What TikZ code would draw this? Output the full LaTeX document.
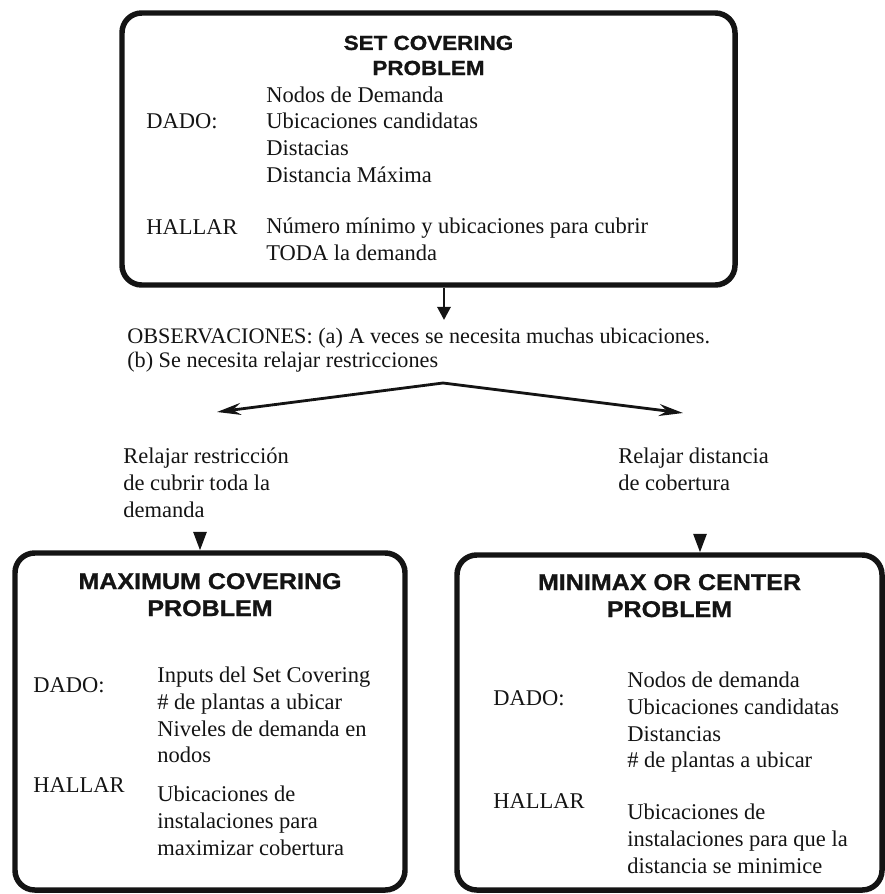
\documentclass[tikz,border=0pt]{standalone}
\usepackage{fontspec}
\setmainfont{Liberation Serif}
\newfontfamily\ttlfont[FakeStretch=1.1, FakeBold=1]{Liberation Sans Bold}
\usepackage{tikz}
\usetikzlibrary{arrows.meta, positioning, fit}
\definecolor{diagink}{HTML}{141414}
\tikzset{
  probbox/.style={draw=diagink, line width=3.9pt, rounded corners=14pt, inner sep=0pt},
  ttl/.style={font={\ttlfont\fontsize{14.5}{17.8}\selectfont}, align=center,
              anchor=base, inner sep=0pt, text=diagink},
  bigttl/.style={ttl, font={\ttlfont\fontsize{16.2}{19.2}\selectfont}},
  txt/.style={font={\fontsize{16}{18.85}\selectfont}, align=left,
              anchor=base west, inner sep=0pt, text=diagink},
  obstxt/.style={txt, font={\fontsize{15.8}{17.1}\selectfont}},
  lbltxt/.style={txt, font={\fontsize{16}{19.2}\selectfont}},
  flow/.style={-{Triangle[length=3.3mm, width=3.3mm]}, line width=2pt, draw=diagink},
  branch/.style={-{Stealth[length=6mm, width=3mm, inset=2mm]}, line width=2pt, draw=diagink},
  drop/.style={-{Triangle[length=4.6mm, width=3.3mm]}, line width=1.5pt, draw=diagink},
}
\begin{document}
\begin{tikzpicture}[x=0.025cm, y=-0.025cm]
  \useasboundingbox (0,0) rectangle (884,894);
  % multi-line nodes sit on the baseline of their last line

  % set covering
  \node[probbox, fit={(122,13) (735,285)}] (scp) {};
  \node[ttl] (scp-ttl) at (428.5,75) {SET COVERING\\PROBLEM};
  \node[txt] (scp-dado) at (146,128) {DADO:};
  \node[txt] (scp-given) at (266,182)
    {Nodos de Demanda\\ Ubicaciones candidatas\\ Distacias\\ Distancia Máxima};
  \node[txt] (scp-hallar) at (146,234) {HALLAR};
  \node[txt] (scp-find) at (266,260.5)
    {Número mínimo y ubicaciones para cubrir\\ TODA la demanda};

  \coordinate (obs-in) at (444,320);
  \draw[flow] (scp.south -| obs-in) -- (obs-in);
  \node[obstxt] (obs) at (127,367.5)
    {OBSERVACIONES: (a) A veces se necesita muchas ubicaciones.\\ (b) Se necesita relajar restricciones};

  % split
  \coordinate (apex) at (443,383);
  \coordinate (left-tip) at (217,412);
  \coordinate (right-tip) at (683,413);
  \draw[branch] (apex) -- (left-tip);
  \draw[branch] (apex) -- (right-tip);
  \node[lbltxt] (relax-cover) at (123,517)
    {Relajar restricción\\ de cubrir toda la\\ demanda};
  \node[lbltxt] (relax-dist) at (618,490)
    {Relajar distancia\\ de cobertura};

  % maximum covering
  \node[probbox, fit={(15,553) (405,890)}] (mcp) {};
  \node[bigttl] (mcp-ttl) at (210,616) {MAXIMUM COVERING\\PROBLEM};
  \node[txt] (mcp-dado) at (33,692) {DADO:};
  \node[txt] (mcp-given) at (157,762.5)
    {Inputs del Set Covering\\ \# de plantas a ubicar\\ Niveles de demanda en\\ nodos};
  \node[txt] (mcp-hallar) at (33,792) {HALLAR};
  \node[txt] (mcp-find) at (157,855)
    {Ubicaciones de\\ instalaciones para\\ maximizar cobertura};
  \coordinate (mcp-in) at (200,534);
  \draw[drop] (mcp-in) -- (mcp-in |- mcp.north);

  % minimax / center
  \node[probbox, fit={(457,555) (882,890)}] (mmx) {};
  \node[bigttl] (mmx-ttl) at (669.5,617) {MINIMAX OR CENTER\\PROBLEM};
  \node[txt] (mmx-dado) at (493,705) {DADO:};
  \node[txt] (mmx-given) at (627,767.5)
    {Nodos de demanda\\ Ubicaciones candidatas\\ Distancias\\ \# de plantas a ubicar};
  \node[txt] (mmx-hallar) at (493,808) {HALLAR};
  \node[txt] (mmx-find) at (627,873)
    {Ubicaciones de\\ instalaciones para que la\\ distancia se minimice};
  \coordinate (mmx-in) at (700,536);
  \draw[drop] (mmx-in) -- (mmx-in |- mmx.north);
\end{tikzpicture}
\end{document}
